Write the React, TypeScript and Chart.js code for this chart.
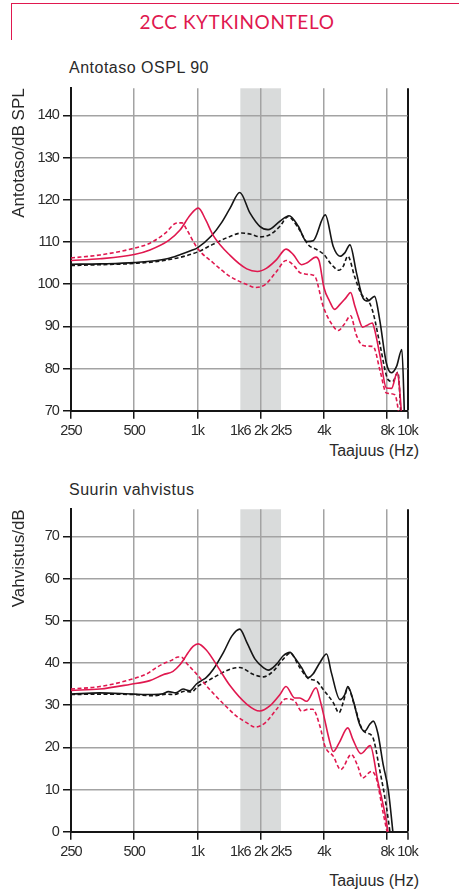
import React, { useEffect, useRef } from "react";
import { Chart, registerables } from "chart.js";

Chart.register(...registerables);

const RED = "#e0184f";
const BLACK = "#151515";
const GRID = "#a3a3a3";
const BAND = "#d9dbdb";
const TEXT = "#2a2a2a";

// ---- shared axis data ----
const xTickValues = [250, 500, 1000, 1600, 2000, 2500, 4000, 8000, 10000];
const xTickLabels = ["250", "500", "1k", "1k6", "2k", "2k5", "4k", "8k", "10k"];
const xNoGridValues = [1600, 2500];
const bandHz = [1600, 2500];

const osplTicks = [70, 80, 90, 100, 110, 120, 130, 140];
const gainTicks = [0, 10, 20, 30, 40, 50, 60, 70];

// ---- Antotaso OSPL 90 ----
const osplRedSolidHz = [250, 343, 500, 594, 727, 826, 922, 1010, 1095, 1190, 1430, 1717, 1928, 2136, 2380, 2640, 2860, 3130, 3310, 3667, 3800, 4000, 4250, 4500, 4770, 5100, 5360, 5600, 5850, 6110, 6400, 6800, 6950, 7400, 7930, 8400, 8930, 9100, 9400];
const osplRedSolidDb = [105.6, 106.0, 107.0, 108.1, 110.3, 112.8, 116.3, 118.0, 115.2, 111.5, 106.8, 103.6, 103.0, 103.8, 105.8, 108.3, 107.0, 104.6, 105.0, 106.4, 105.4, 99.2, 96.0, 94.0, 95.2, 96.8, 98.0, 95.0, 92.0, 89.8, 90.2, 90.8, 89.5, 83.0, 75.4, 75.3, 79.0, 77.0, 68.0];

const osplRedDashHz = [250, 343, 500, 594, 700, 800, 845, 887, 1000, 1190, 1430, 1720, 1880, 2100, 2380, 2640, 2900, 3060, 3250, 3500, 3630, 3970, 4300, 4680, 5000, 5360, 5700, 6100, 6500, 6870, 7400, 7930, 8700, 9250];
const osplRedDashDb = [106.2, 106.9, 108.5, 109.7, 112.0, 114.5, 114.5, 113.0, 108.5, 105.0, 101.8, 99.9, 99.2, 99.9, 103.0, 105.6, 104.2, 102.8, 102.4, 102.2, 101.8, 94.7, 91.0, 89.0, 90.5, 92.5, 88.0, 85.5, 85.3, 85.2, 79.5, 74.2, 73.8, 67.0];

const osplBlackSolidHz = [250, 343, 500, 717, 830, 940, 1000, 1170, 1300, 1430, 1590, 1780, 1980, 2170, 2470, 2730, 3020, 3310, 3560, 4060, 4430, 4770, 5030, 5320, 5720, 6140, 6480, 6970, 7370, 7930, 8380, 8870, 9400, 9700];
const osplBlackSolidDb = [104.7, 104.8, 105.1, 106.0, 107.0, 108.0, 108.6, 111.5, 114.5, 118.0, 121.7, 116.8, 113.7, 112.9, 114.9, 116.2, 113.7, 110.1, 110.3, 116.4, 108.9, 106.6, 107.4, 109.3, 102.6, 96.7, 96.0, 97.1, 91.6, 81.3, 79.0, 80.5, 84.5, 67.0];

const osplBlackDashHz = [250, 343, 500, 717, 1000, 1170, 1430, 1620, 1800, 1980, 2210, 2470, 2700, 3020, 3370, 3690, 4000, 4350, 4720, 4940, 5200, 5600, 6040, 6480, 6870, 7370, 8100, 8500, 9000, 9350];
const osplBlackDashDb = [104.4, 104.6, 104.9, 105.7, 107.6, 109.3, 111.3, 112.1, 111.8, 111.2, 111.7, 113.7, 116.0, 113.3, 109.3, 108.2, 107.0, 104.6, 103.3, 104.2, 106.6, 101.8, 97.5, 96.3, 93.1, 86.0, 77.3, 76.9, 79.1, 67.0];

// ---- Suurin vahvistus ----
const gainRedSolidHz = [250, 343, 476, 593, 686, 765, 823, 860, 902, 953, 1007, 1104, 1231, 1425, 1720, 1980, 2210, 2470, 2640, 2900, 3070, 3310, 3670, 3830, 4000, 4240, 4430, 4720, 5200, 5500, 6000, 6650, 7200, 7800, 8200];
const gainRedSolidDb = [33.5, 33.8, 34.9, 35.8, 37.2, 38.0, 39.5, 40.8, 42.4, 43.9, 44.5, 43.0, 39.6, 34.7, 30.2, 28.6, 29.8, 32.5, 34.4, 31.7, 31.7, 30.9, 34.1, 31.3, 27.4, 21.8, 19.0, 21.0, 24.6, 21.8, 18.5, 20.4, 12.3, 4.4, -2.0];

const gainRedDashHz = [250, 343, 476, 573, 638, 686, 752, 809, 846, 886, 989, 1144, 1374, 1533, 1720, 1880, 2100, 2380, 2640, 2900, 3130, 3370, 3540, 3830, 4050, 4430, 4810, 5400, 5800, 6100, 6740, 7100, 7660, 8150];
const gainRedDashDb = [33.8, 34.4, 36.0, 37.4, 38.9, 39.8, 40.6, 41.4, 41.3, 40.0, 37.4, 33.7, 29.6, 27.4, 25.8, 24.8, 25.8, 29.0, 31.5, 31.0, 28.6, 29.0, 29.0, 25.0, 20.2, 17.9, 14.7, 18.3, 15.5, 12.7, 14.3, 12.7, 4.4, -2.0];

const gainBlackSolidHz = [250, 343, 500, 617, 686, 727, 790, 854, 919, 989, 1045, 1100, 1190, 1330, 1460, 1590, 1720, 1880, 2060, 2170, 2380, 2560, 2760, 2900, 3130, 3370, 3540, 3830, 4120, 4340, 4770, 5030, 5200, 5500, 5920, 6250, 6600, 6870, 7220, 7660, 8100, 8600];
const gainBlackSolidDb = [32.6, 32.9, 32.6, 32.5, 32.7, 33.2, 32.9, 33.8, 33.4, 35.0, 35.8, 36.5, 38.5, 42.5, 46.4, 48.0, 44.8, 40.9, 38.9, 38.3, 39.7, 41.7, 42.5, 41.3, 38.9, 36.5, 37.3, 40.1, 42.1, 37.7, 31.3, 32.5, 34.4, 31.3, 25.4, 23.8, 25.4, 26.2, 23.4, 15.9, 9.9, -2.0];

const gainBlackDashHz = [250, 343, 500, 617, 711, 777, 870, 940, 1000, 1100, 1190, 1430, 1590, 1840, 2060, 2300, 2560, 2760, 3070, 3370, 3690, 3970, 4430, 4720, 4940, 5200, 5600, 6040, 6360, 6800, 7370, 7930, 8350];
const gainBlackDashDb = [32.5, 32.6, 32.5, 32.2, 32.6, 32.5, 33.3, 33.1, 34.4, 35.5, 36.5, 38.5, 38.9, 37.3, 36.7, 38.1, 40.9, 42.3, 38.9, 36.3, 35.7, 33.7, 30.6, 28.2, 30.6, 34.1, 29.8, 24.6, 23.4, 22.6, 14.7, 6.0, -2.0];

const pts = (hz: number[], db: number[]) => hz.map((f, i) => ({ x: f, y: db[i] }));

const TICK_FONT = { family: "'Liberation Sans', Arial, sans-serif", size: 14.5 };
const TICK_SPACING = "-0.9px";
const TITLE_FONT = { family: "'Liberation Sans', Arial, sans-serif", size: 17 };

const bandPlugin = {
  id: "band",
  beforeDraw(chart: any) {
    const { ctx, chartArea } = chart;
    const xs = chart.scales.x;
    const x0 = xs.getPixelForValue(bandHz[0]);
    const x1 = xs.getPixelForValue(bandHz[1]);
    ctx.save();
    ctx.fillStyle = BAND;
    ctx.fillRect(x0, chartArea.top, x1 - x0, chartArea.bottom - chartArea.top);
    ctx.restore();
    // condensed look for tick labels only
    Object.values(chart.scales).forEach((s: any) => {
      if (s.__narrow) return;
      const orig = s.drawLabels;
      s.drawLabels = function (area: any) {
        const c = this.ctx;
        c.save();
        c.letterSpacing = TICK_SPACING;
        orig.call(this, area);
        c.restore();
      };
      s.__narrow = true;
    });
  },
};

type Series = { hz: number[]; db: number[]; color: string; dash: boolean };

function makeConfig(series: Series[], yMin: number, yMax: number, yTicks: number[], yTitle: string, padTop: number, padBottom: number) {
  return {
    type: "line",
    data: {
      datasets: series.map((s) => ({
        data: pts(s.hz, s.db),
        borderColor: s.color,
        borderWidth: 1.6,
        borderDash: s.dash ? [4, 2.5] : [],
        pointRadius: 0,
        fill: false,
        cubicInterpolationMode: "monotone",
      })),
    },
    options: {
      animation: false,
      responsive: false,
      devicePixelRatio: 1,
      layout: { padding: { left: 9, right: 51.5, top: padTop, bottom: padBottom } },
      plugins: { legend: { display: false }, tooltip: { enabled: false }, title: { display: false } },
      scales: {
        x: {
          type: "logarithmic",
          min: 250,
          max: 10000,
          afterBuildTicks: (scale: any) => {
            scale.ticks = xTickValues.map((v) => ({ value: v }));
          },
          afterFit: (scale: any) => {
            scale.height = 30;
          },
          ticks: {
            autoSkip: false,
            maxRotation: 0,
            minRotation: 0,
            padding: 4,
            color: TEXT,
            font: TICK_FONT,
            callback: (_v: any, i: number) => xTickLabels[i],
          },
          grid: {
            color: (ctx: any) => {
              const v = ctx.tick && ctx.tick.value;
              if (xNoGridValues.includes(v)) return "rgba(0,0,0,0)";
              if (v === 10000) return BLACK;
              return GRID;
            },
            lineWidth: (ctx: any) => (ctx.tick && ctx.tick.value === 10000 ? 2 : 1.5),
            tickColor: (ctx: any) => (ctx.tick && xNoGridValues.includes(ctx.tick.value) ? "rgba(0,0,0,0)" : BLACK),
            tickLength: 8,
            tickWidth: 1.5,
          },
          border: { display: true, color: BLACK, width: 2 },
        },
        y: {
          type: "linear",
          min: yMin,
          max: yMax,
          afterBuildTicks: (scale: any) => {
            scale.ticks = yTicks.map((v) => ({ value: v }));
          },
          afterFit: (scale: any) => {
            scale.width = 62;
          },
          ticks: { padding: 4, color: TEXT, font: TICK_FONT },
          grid: { color: GRID, lineWidth: 1.5, tickColor: BLACK, tickLength: 8, tickWidth: 1.5 },
          border: { display: true, color: BLACK, width: 2 },
          title: {
            display: true,
            text: yTitle,
            align: "end",
            color: TEXT,
            font: TITLE_FONT,
            padding: { top: 0, bottom: 0 },
          },
        },
      },
    },
    plugins: [bandPlugin],
  };
}

function ChartCanvas(props: { top: number; height: number; config: () => any }) {
  const ref = useRef<HTMLCanvasElement | null>(null);
  useEffect(() => {
    if (!ref.current) return;
    const chart = new Chart(ref.current, props.config());
    chart.draw();
    return () => chart.destroy();
  }, []);
  return (
    <canvas
      ref={ref}
      width={459}
      height={props.height}
      style={{ position: "absolute", left: 0, top: props.top, width: 459, height: props.height }}
    />
  );
}

const textStyle: React.CSSProperties = {
  position: "absolute",
  fontFamily: "'Liberation Sans', Arial, sans-serif",
  fontSize: 16,
  lineHeight: "16px",
  color: TEXT,
  whiteSpace: "nowrap",
  letterSpacing: "0.5px",
};

export default function App() {
  const topSeries: Series[] = [
    { hz: osplRedDashHz, db: osplRedDashDb, color: RED, dash: true },
    { hz: osplRedSolidHz, db: osplRedSolidDb, color: RED, dash: false },
    { hz: osplBlackDashHz, db: osplBlackDashDb, color: BLACK, dash: true },
    { hz: osplBlackSolidHz, db: osplBlackSolidDb, color: BLACK, dash: false },
  ];
  const bottomSeries: Series[] = [
    { hz: gainRedDashHz, db: gainRedDashDb, color: RED, dash: true },
    { hz: gainRedSolidHz, db: gainRedSolidDb, color: RED, dash: false },
    { hz: gainBlackDashHz, db: gainBlackDashDb, color: BLACK, dash: true },
    { hz: gainBlackSolidHz, db: gainBlackSolidDb, color: BLACK, dash: false },
  ];
  return (
    <div style={{ position: "absolute", left: 0, top: 0, width: 459, height: 894, background: "#fff", overflow: "hidden" }}>
      <div
        style={{
          position: "absolute",
          left: 11,
          top: 3,
          width: 460,
          height: 37,
          borderTop: `1.5px solid ${RED}`,
          borderLeft: `1.5px solid ${RED}`,
          boxSizing: "border-box",
        }}
      />
      <div
        style={{
          position: "absolute",
          left: 0,
          width: 474,
          top: 12,
          textAlign: "center",
          fontFamily: "Lato, 'Open Sans', sans-serif",
          fontSize: 19,
          lineHeight: "19px",
          letterSpacing: "0.6px",
          color: RED,
          whiteSpace: "nowrap",
        }}
      >
        2CC KYTKINONTELO
      </div>
      <div style={{ ...textStyle, left: 69, top: 60 }}>Antotaso OSPL 90</div>
      <div style={{ ...textStyle, left: 69, top: 481.5 }}>Suurin vahvistus</div>
      <div style={{ ...textStyle, left: 0, width: 419, textAlign: "right", top: 443, letterSpacing: "0px" }}>Taajuus (Hz)</div>
      <div style={{ ...textStyle, left: 0, width: 419, textAlign: "right", top: 873, letterSpacing: "0px" }}>Taajuus (Hz)</div>
      <ChartCanvas
        top={40}
        height={420}
        config={() => makeConfig(topSeries, 70, 146.4, osplTicks, "Antotaso/dB SPL", 48.3, 19.3)}
      />
      <ChartCanvas
        top={460}
        height={434}
        config={() => makeConfig(bottomSeries, 0, 76.4, gainTicks, "Vahvistus/dB", 49.3, 32.3)}
      />
    </div>
  );
}
